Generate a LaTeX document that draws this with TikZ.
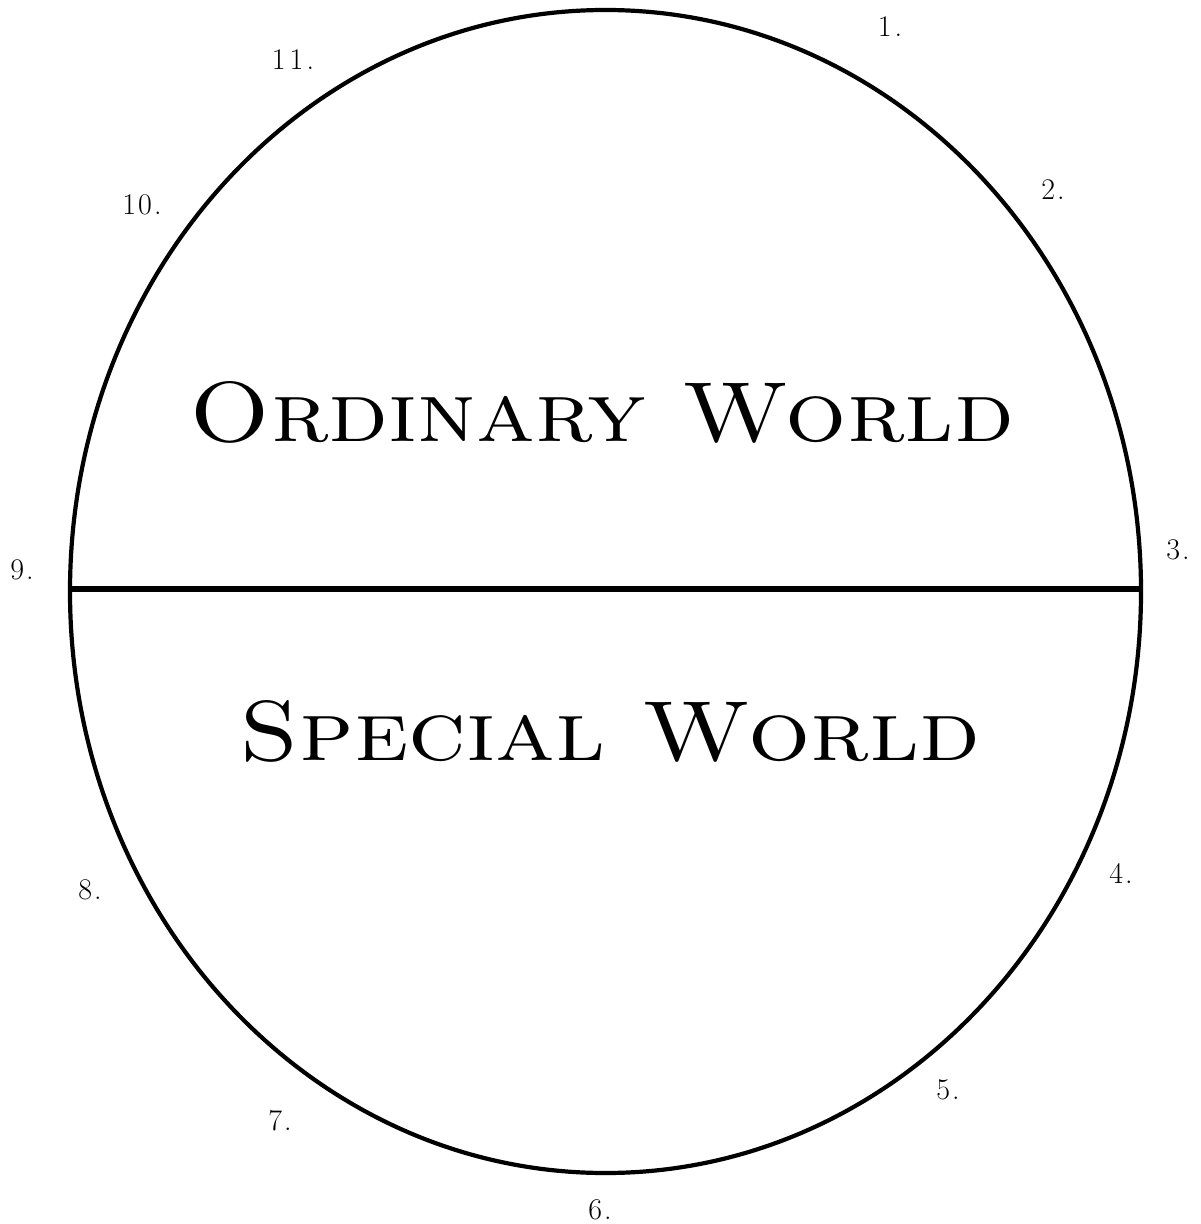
\documentclass[tikz,border=0pt]{standalone}
\usepackage{graphicx}
\begin{document}
\begin{tikzpicture}[x=0.5pt,y=-0.5pt,
  num/.style={font=\fontsize{15}{17}\selectfont, inner sep=0pt},
  world/.style={inner sep=0pt}]
\useasboundingbox (0,0) rectangle (1200,1224);
\draw[line width=2.1pt] (605.5,591.5) ellipse [x radius=535.5, y radius=581.5];
\coordinate (L) at (70,589);
\coordinate (R) at (1141,589);
\draw[line width=3pt] (L) -- (R);
\node[world] (ow) at (602,412) {\resizebox{412pt}{30pt}{\textsc{Ordinary World}}};
\node[world] (sw) at (610,731) {\resizebox{370pt}{30pt}{\textsc{Special World}}};
\node[num] (n1) at (890,27) {1\kern1.5pt.};
\node[num] (n2) at (1053,190) {2\kern1pt.};
\node[num] (n3) at (1178,550) {3\kern1pt.};
\node[num] (n4) at (1121,873) {4\kern1pt.};
\node[num] (n5) at (948,1090) {5\kern1pt.};
\node[num] (n6) at (600,1210) {6\kern1pt.};
\node[num] (n7) at (280,1121) {7\kern1pt.};
\node[num] (n8) at (90,890) {8\kern1pt.};
\node[num] (n9) at (22,570) {9\kern1pt.};
\node[num] (n10) at (142,205) {1\kern1pt0\kern1pt.};
\node[num] (n11) at (293,60) {1\kern2pt1\kern1.5pt.};
\end{tikzpicture}
\end{document}
